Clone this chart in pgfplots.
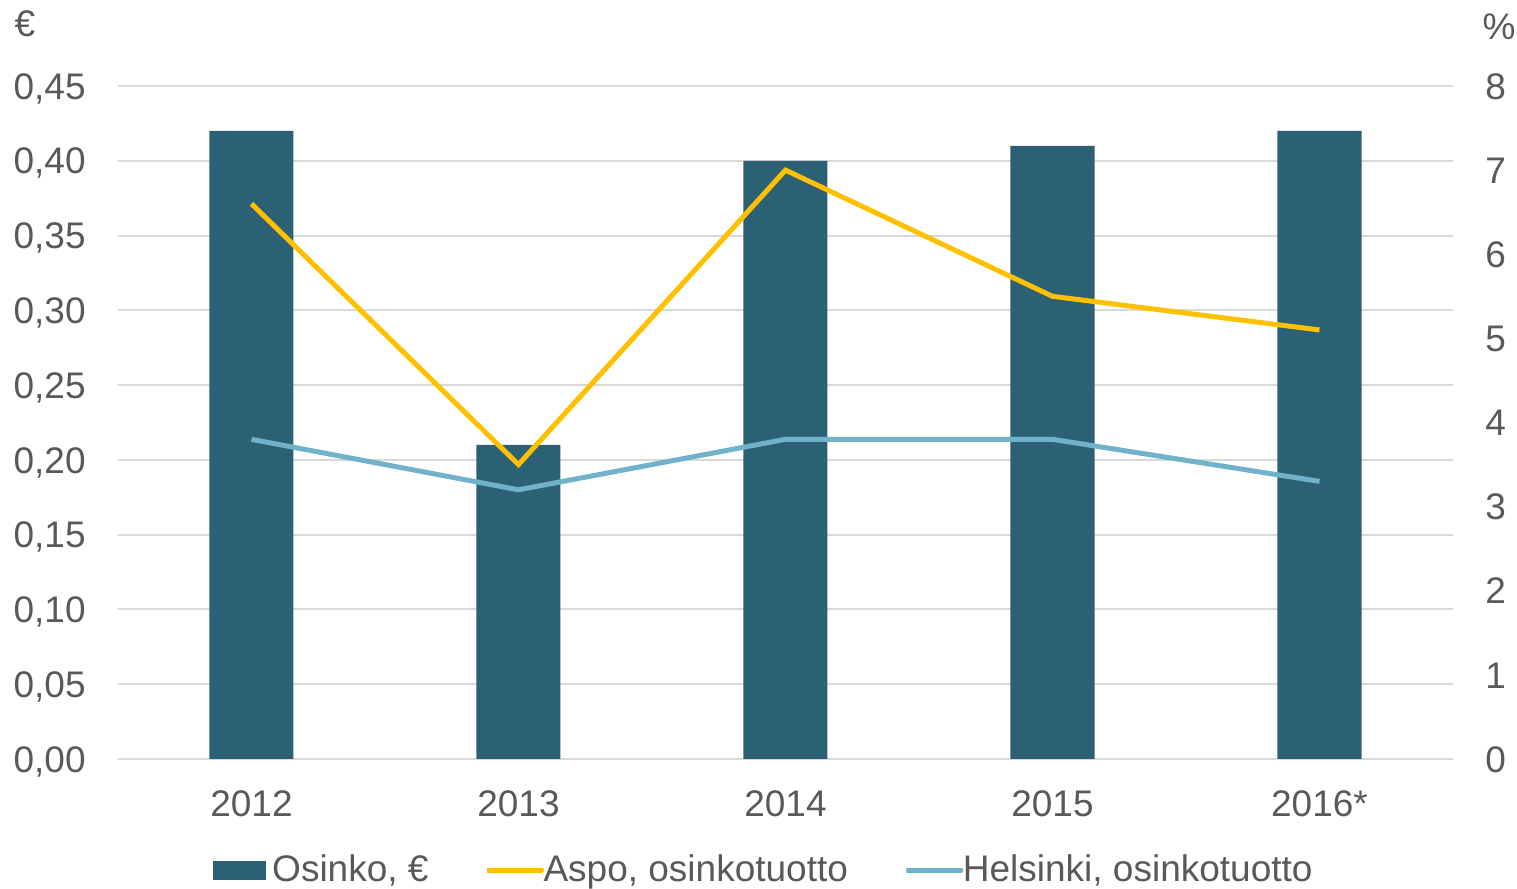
\documentclass[border=0pt]{standalone}
\usepackage{fontspec}
\setmainfont{Liberation Sans}
\usepackage{pgfplots}
\pgfplotsset{compat=1.18}
\definecolor{barc}{HTML}{2C6175}
\definecolor{aspo}{HTML}{FFC000}
\definecolor{hel}{HTML}{71B2CB}
\definecolor{txt}{HTML}{595959}
\definecolor{grd}{HTML}{D9D9D9}
\newcommand\fs{\fontsize{18.5pt}{22pt}\selectfont}
\pgfplotsset{base/.style={
  scale only axis, width=667.5pt, height=336.5pt, at={(0,0)}, anchor=south west,
  xmin=-0.5, xmax=4.5,
  axis line style={draw=none},
  major tick length=0pt,
  tick style={draw=none},
  /pgf/number format/assume math mode=true,
  every tick label/.append style={font=\fs, text=txt},
  clip=false,
}}
\pgfplotsset{mylinelegend/.style={legend image code/.code={\draw[##1, line cap=round] (1.25pt,0pt)--(27.25pt,0pt);\pgfresetboundingbox\path (0pt,0pt) rectangle (24pt,0pt);}}}
\pgfplotsset{mybarlegend/.style={legend image code/.code={\fill[barc] (0pt,-4.5pt) rectangle (26pt,4.5pt);}}}
\begin{document}
\begin{tikzpicture}
\useasboundingbox (-59pt,-65pt) rectangle (699.5pt,379.5pt);
\begin{axis}[base,
  ymin=0, ymax=0.45,
  ytick={0,0.05,0.10,0.15,0.20,0.25,0.30,0.35,0.40,0.45},
  yticklabels={{0,00},{0,05},{0,10},{0,15},{0,20},{0,25},{0,30},{0,35},{0,40},{0,45}},
  ymajorgrids, grid style={grd, line width=1pt},
  xtick={0,1,2,3,4}, xticklabels={2012,2013,2014,2015,2016*},
  xticklabel style={anchor=base, inner sep=0pt, yshift=-28.5pt},
  yticklabel style={anchor=base east, inner sep=0pt, xshift=-16pt, yshift=-6.6pt},
  ybar, bar width=42pt,
]
\addplot[fill=barc, draw=none] coordinates {(0,0.42) (1,0.21) (2,0.40) (3,0.41) (4,0.42)};
\end{axis}
\begin{axis}[base,
  ymin=0, ymax=8,
  ytick={0,1,2,3,4,5,6,7,8},
  ytick pos=right, yticklabel pos=right,
  xtick=\empty,
  yticklabel style={anchor=base west, inner sep=0pt, xshift=16pt, yshift=-6.6pt},
  legend columns=3,
  legend style={at={(axis description cs:0.0712,-0.165)}, anchor=west, draw=none, fill=none,
    inner sep=0pt, font=\fs, text=txt, column sep=3pt,
    /tikz/every even column/.append style={column sep=28pt},
    nodes={inner sep=0pt}},
]
\addlegendimage{mybarlegend}
\addlegendentry{Osinko, €}
\addplot[aspo, line width=2.5pt, mylinelegend]
  coordinates {(0,6.6) (1,3.5) (2,7.0) (3,5.5) (4,5.1)};
\addlegendentry{Aspo, osinkotuotto}
\addplot[hel, line width=2.5pt, mylinelegend]
  coordinates {(0,3.8) (1,3.2) (2,3.8) (3,3.8) (4,3.3)};
\addlegendentry{Helsinki, osinkotuotto}
\end{axis}
\node[font=\fs, text=txt, anchor=base] at (-46.5pt,361pt) {€};
\node[font=\fs, text=txt, anchor=base] at (690.5pt,359.5pt) {\%};
\end{tikzpicture}
\end{document}
